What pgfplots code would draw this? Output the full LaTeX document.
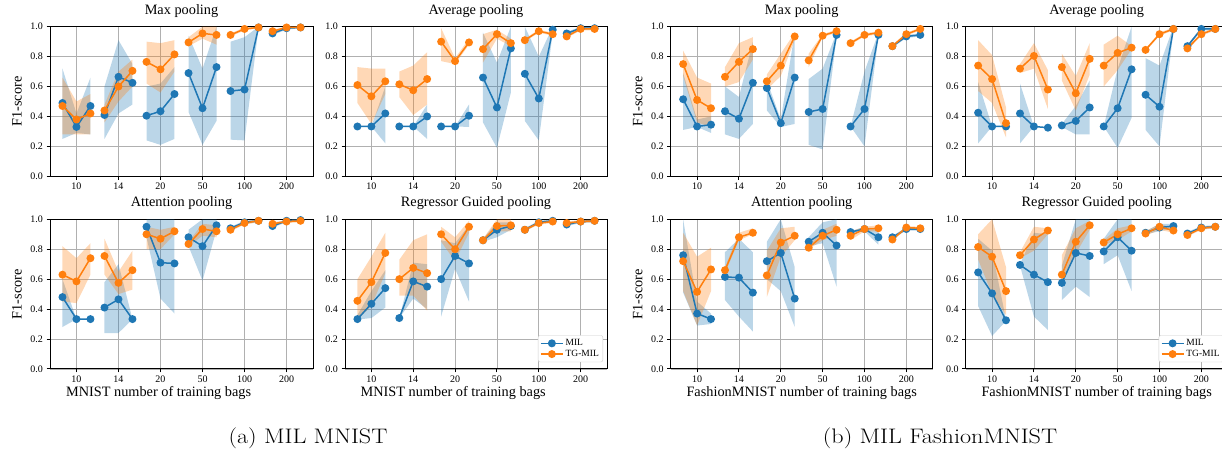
\documentclass[border=0pt]{standalone}
\usepackage{fontspec}
\usepackage{graphicx}
\usepackage{pgfplots}
\usepackage{pgfplotstable}
\pgfplotsset{compat=1.18}
\usepgfplotslibrary{fillbetween}
\newfontfamily\tnr{Liberation Serif}

\definecolor{c0}{HTML}{1F77B4}
\definecolor{c1}{HTML}{FF7F0E}
\definecolor{gridc}{HTML}{B0B0B0}

% columns: x, MIL mean/low/high, TG-MIL mean/low/high
\pgfplotstableread{
x m1 l1 h1 m2 l2 h2
-0.333 0.49 0.25 0.72 0.47 0.28 0.66
0 0.33 0.29 0.42 0.38 0.28 0.50
0.333 0.47 0.28 0.66 0.42 0.28 0.55
0.667 0.41 0.25 0.60 0.44 0.36 0.48
1 0.665 0.42 0.91 0.60 0.50 0.70
1.333 0.625 0.48 0.75 0.705 0.60 0.78
1.667 0.405 0.24 0.60 0.765 0.62 0.90
2 0.435 0.21 0.62 0.715 0.56 0.89
2.333 0.55 0.25 0.73 0.815 0.70 0.91
2.667 0.69 0.43 0.94 0.895 0.87 0.93
3 0.455 0.21 0.72 0.955 0.92 1.0
3.333 0.73 0.37 1.0 0.945 0.88 1.0
3.667 0.57 0.245 0.90 0.945 0.935 0.955
4 0.58 0.24 0.93 0.985 0.975 0.995
4.333 0.995 0.99 1.0 0.995 0.99 1.0
4.667 0.955 0.945 0.965 0.97 0.96 0.98
5 0.99 0.98 1.0 0.995 0.99 1.0
5.333 0.995 0.99 1.0 0.995 0.99 1.0
}\tMA
\pgfplotstableread{
x m1 l1 h1 m2 l2 h2
-0.333 0.333 0.333 0.333 0.61 0.49 0.73
0 0.333 0.333 0.333 0.535 0.35 0.72
0.333 0.42 0.22 0.60 0.635 0.55 0.72
0.667 0.333 0.333 0.333 0.615 0.53 0.70
1 0.333 0.333 0.333 0.575 0.41 0.74
1.333 0.40 0.25 0.48 0.65 0.48 0.83
1.667 0.333 0.333 0.333 0.90 0.77 0.99
2 0.333 0.333 0.333 0.77 0.75 0.79
2.333 0.405 0.33 0.48 0.895 0.88 0.92
2.667 0.66 0.36 0.96 0.85 0.76 0.95
3 0.46 0.19 0.76 0.95 0.92 0.98
3.333 0.855 0.56 1.0 0.89 0.87 0.92
3.667 0.685 0.37 1.0 0.91 0.90 0.92
4 0.52 0.24 0.80 0.97 0.96 0.98
4.333 0.98 0.96 1.0 0.95 0.94 0.96
4.667 0.955 0.945 0.965 0.935 0.925 0.945
5 0.99 0.98 1.0 0.985 0.975 0.995
5.333 0.99 0.98 1.0 0.985 0.975 0.995
}\tMB
\pgfplotstableread{
x m1 l1 h1 m2 l2 h2
-0.333 0.48 0.28 0.60 0.63 0.45 0.82
0 0.333 0.333 0.333 0.585 0.44 0.74
0.333 0.333 0.333 0.333 0.74 0.63 0.84
0.667 0.41 0.24 0.58 0.755 0.63 0.87
1 0.465 0.24 0.70 0.575 0.50 0.65
1.333 0.333 0.333 0.333 0.66 0.53 0.79
1.667 0.95 0.88 1.0 0.90 0.80 0.95
2 0.71 0.47 1.0 0.87 0.80 0.93
2.333 0.705 0.37 1.0 0.92 0.90 0.95
2.667 0.88 0.82 0.93 0.835 0.82 0.85
3 0.82 0.59 1.0 0.935 0.89 0.97
3.333 0.96 0.93 1.0 0.92 0.88 0.96
3.667 0.94 0.93 0.95 0.93 0.92 0.94
4 0.98 0.97 0.99 0.975 0.965 0.985
4.333 0.99 0.98 1.0 0.99 0.98 1.0
4.667 0.955 0.945 0.965 0.97 0.96 0.98
5 0.99 0.98 1.0 0.985 0.975 0.995
5.333 0.995 0.99 1.0 0.99 0.98 1.0
}\tMC
\pgfplotstableread{
x m1 l1 h1 m2 l2 h2
-0.333 0.333 0.33 0.36 0.455 0.33 0.60
0 0.435 0.34 0.52 0.58 0.42 0.75
0.333 0.54 0.41 0.66 0.775 0.64 0.91
0.667 0.34 0.34 0.34 0.60 0.49 0.73
1 0.585 0.47 0.71 0.675 0.49 0.86
1.333 0.55 0.40 0.70 0.64 0.39 0.90
1.667 0.60 0.35 0.86 0.90 0.85 0.95
2 0.755 0.67 0.84 0.80 0.72 0.88
2.333 0.705 0.45 0.96 0.95 0.91 0.99
2.667 0.86 0.85 0.87 0.86 0.85 0.87
3 0.93 0.88 0.98 0.955 0.92 1.0
3.333 0.955 0.93 0.98 0.96 0.92 1.0
3.667 0.93 0.92 0.94 0.93 0.92 0.94
4 0.98 0.97 0.99 0.975 0.965 0.985
4.333 0.99 0.98 1.0 0.985 0.975 0.995
4.667 0.965 0.955 0.975 0.975 0.965 0.985
5 0.985 0.975 0.995 0.985 0.975 0.995
5.333 0.99 0.98 1.0 0.99 0.98 1.0
}\tMD
\pgfplotstableread{
x m1 l1 h1 m2 l2 h2
-0.333 0.515 0.31 0.69 0.75 0.67 0.84
0 0.333 0.33 0.38 0.51 0.36 0.66
0.333 0.345 0.29 0.40 0.455 0.33 0.62
0.667 0.435 0.28 0.60 0.665 0.60 0.73
1 0.385 0.25 0.53 0.765 0.63 0.89
1.333 0.625 0.35 0.90 0.85 0.78 0.93
1.667 0.59 0.44 0.64 0.635 0.58 0.68
2 0.355 0.33 0.38 0.74 0.67 0.82
2.333 0.66 0.35 0.96 0.935 0.91 0.96
2.667 0.43 0.21 0.65 0.775 0.73 0.82
3 0.45 0.18 0.72 0.94 0.93 0.95
3.333 0.945 0.93 0.96 0.97 0.96 0.98
3.667 0.333 0.333 0.333 0.89 0.88 0.90
4 0.45 0.20 0.70 0.945 0.935 0.955
4.333 0.945 0.93 0.96 0.96 0.95 0.97
4.667 0.87 0.86 0.88 0.87 0.86 0.88
5 0.935 0.925 0.945 0.95 0.94 0.96
5.333 0.945 0.935 0.955 0.985 0.975 0.995
}\tFA
\pgfplotstableread{
x m1 l1 h1 m2 l2 h2
-0.333 0.425 0.22 0.63 0.74 0.57 0.91
0 0.333 0.333 0.333 0.65 0.49 0.81
0.333 0.333 0.333 0.333 0.355 0.26 0.46
0.667 0.42 0.22 0.62 0.72 0.69 0.75
1 0.333 0.333 0.333 0.805 0.72 0.89
1.333 0.325 0.325 0.325 0.58 0.45 0.71
1.667 0.34 0.33 0.35 0.73 0.64 0.82
2 0.37 0.28 0.47 0.555 0.44 0.67
2.333 0.46 0.28 0.64 0.785 0.68 0.89
2.667 0.333 0.333 0.333 0.74 0.60 0.88
3 0.455 0.19 0.72 0.825 0.71 0.94
3.333 0.715 0.39 1.0 0.86 0.85 0.87
3.667 0.545 0.31 0.79 0.845 0.835 0.855
4 0.465 0.20 0.74 0.95 0.94 0.96
4.333 0.985 0.97 1.0 0.985 0.975 0.995
4.667 0.87 0.86 0.88 0.855 0.845 0.865
5 0.985 0.975 0.995 0.95 0.94 0.96
5.333 0.985 0.975 0.995 0.985 0.975 0.995
}\tFB
\pgfplotstableread{
x m1 l1 h1 m2 l2 h2
-0.333 0.76 0.51 1.0 0.72 0.52 0.91
0 0.37 0.29 0.45 0.515 0.29 0.75
0.333 0.333 0.30 0.37 0.665 0.52 0.81
0.667 0.615 0.46 0.78 0.66 0.64 0.68
1 0.61 0.35 0.87 0.88 0.86 0.91
1.333 0.51 0.25 0.78 0.91 0.90 0.94
1.667 0.72 0.60 0.85 0.625 0.48 0.79
2 0.775 0.52 1.0 0.845 0.75 0.94
2.333 0.47 0.28 0.68 0.89 0.86 0.95
2.667 0.85 0.82 0.88 0.81 0.80 0.82
3 0.91 0.84 0.98 0.89 0.86 0.93
3.333 0.825 0.55 1.0 0.93 0.89 0.97
3.667 0.915 0.91 0.92 0.89 0.86 0.92
4 0.935 0.92 0.95 0.935 0.92 0.95
4.333 0.88 0.83 0.93 0.94 0.92 0.96
4.667 0.88 0.87 0.89 0.865 0.855 0.875
5 0.935 0.925 0.945 0.945 0.935 0.955
5.333 0.935 0.925 0.945 0.94 0.93 0.95
}\tFC
\pgfplotstableread{
x m1 l1 h1 m2 l2 h2
-0.333 0.645 0.42 0.87 0.815 0.73 0.90
0 0.505 0.22 0.79 0.75 0.50 1.0
0.333 0.325 0.32 0.33 0.52 0.36 0.68
0.667 0.695 0.69 0.70 0.76 0.74 0.78
1 0.63 0.35 0.91 0.865 0.79 0.95
1.333 0.58 0.26 0.90 0.925 0.90 0.94
1.667 0.575 0.46 0.69 0.63 0.58 0.76
2 0.775 0.55 1.0 0.85 0.77 0.94
2.333 0.755 0.48 1.0 0.96 0.93 0.99
2.667 0.785 0.70 0.87 0.845 0.83 0.86
3 0.88 0.76 1.0 0.90 0.86 0.94
3.333 0.79 0.52 1.0 0.94 0.92 0.96
3.667 0.91 0.90 0.92 0.905 0.89 0.92
4 0.945 0.92 0.97 0.95 0.93 0.97
4.333 0.955 0.94 0.97 0.925 0.91 0.94
4.667 0.905 0.895 0.915 0.895 0.885 0.905
5 0.945 0.935 0.955 0.94 0.93 0.95
5.333 0.95 0.94 0.96 0.95 0.94 0.96
}\tFD

% one group of three points: band and line
% #1 table, #2 low col, #3 high col, #4 colour, #5 id, #6 x domain
\newcommand{\bandg}[6]{%
  \addplot[draw=none, forget plot, name path=H#4#5, restrict x to domain=#6] table[x=x, y=#3] {#1};
  \addplot[draw=none, forget plot, name path=L#4#5, restrict x to domain=#6] table[x=x, y=#2] {#1};
  \addplot[fill=#4, fill opacity=0.3, draw=none, forget plot] fill between[of=H#4#5 and L#4#5];
}
% #1 table, #2 mean col, #3 colour, #4 x domain
\newcommand{\lineg}[4]{%
  \addplot[#3, line width=1.5pt, mark=*, mark size=3.2pt, mark options={solid, fill=#3}, forget plot,
    restrict x to domain=#4] table[x=x, y=#2] {#1};
}
\newcommand{\bands}[4]{%
  \bandg{#1}{#2}{#3}{#4}{a}{-0.5:0.5}\bandg{#1}{#2}{#3}{#4}{b}{0.5:1.5}%
  \bandg{#1}{#2}{#3}{#4}{c}{1.5:2.5}\bandg{#1}{#2}{#3}{#4}{d}{2.5:3.5}%
  \bandg{#1}{#2}{#3}{#4}{e}{3.5:4.5}\bandg{#1}{#2}{#3}{#4}{f}{4.5:5.5}%
}
\newcommand{\lines}[3]{%
  \lineg{#1}{#2}{#3}{-0.5:0.5}\lineg{#1}{#2}{#3}{0.5:1.5}\lineg{#1}{#2}{#3}{1.5:2.5}%
  \lineg{#1}{#2}{#3}{2.5:3.5}\lineg{#1}{#2}{#3}{3.5:4.5}\lineg{#1}{#2}{#3}{4.5:5.5}%
}
\newcommand{\panel}[1]{%
  \bands{#1}{l1}{h1}{c0}
  \bands{#1}{l2}{h2}{c1}
  \lines{#1}{m1}{c0}
  \lines{#1}{m2}{c1}
}

\pgfplotsset{
  sub/.style={
    scale only axis, anchor=north west,
    width=262pt, height=149.6pt,
    xmin=-0.63, xmax=5.63, ymin=0, ymax=1,
    xtick={0,...,5}, xticklabels={10,14,20,50,100,200},
    ytick={0,0.2,0.4,0.6,0.8,1},
    yticklabel style={/pgf/number format/.cd, fixed, fixed zerofill, precision=1},
    /pgf/number format/assume math mode=true,
    grid=major, grid style={gridc, line width=0.8pt},
    axis line style={line width=0.9pt},
    tick style={black, line width=0.9pt},
    tick align=outside, major tick length=3.5pt, tick pos=left,
    ticklabel style={font=\tnr\fontsize{10}{12}\selectfont},
    title style={font=\tnr\fontsize{14.3}{17}\selectfont, at={(axis description cs:0.5,1)}, anchor=base, yshift=6.5pt},
    label style={font=\tnr\fontsize{14.3}{17}\selectfont},
    ylabel style={at={(axis description cs:-0.126,0.5)}, anchor=center},
    xlabel style={at={(axis description cs:0.5,-0.162)}, anchor=center},
    clip=false,
    legend style={at={(0.985,0.045)}, anchor=south east, font=\tnr\fontsize{9.5}{11}\selectfont,
      draw=gray!40, rounded corners=2pt, fill=white, inner sep=2pt, row sep=-1pt},
    legend cell align=left,
    legend image code/.code={\draw[mark repeat=2, mark phase=2] plot coordinates {(0pt,0pt) (11pt,0pt) (22pt,0pt)};},
  },
  mnistx/.style={xlabel style={at={(axis description cs:0.413,-0.162)}}},
}
\newcommand{\legendentries}{%
  \addlegendimage{c0, line width=1.5pt, mark=*, mark size=3.2pt, mark options={fill=c0}}\addlegendentry{MIL}
  \addlegendimage{c1, line width=1.5pt, mark=*, mark size=3.2pt, mark options={fill=c1}}\addlegendentry{TG-MIL}
}

\begin{document}
\begin{tikzpicture}
% (a) MNIST
\begin{axis}[sub, at={(50pt,-26.7pt)}, width=263pt, title={Max pooling}, ylabel={F1-score}]
\panel{\tMA}
\end{axis}
\begin{axis}[sub, at={(345pt,-26.7pt)}, title={Average pooling}]
\panel{\tMB}
\end{axis}
\begin{axis}[sub, mnistx, at={(50pt,-219.3pt)}, width=263pt, title={Attention pooling}, ylabel={F1-score}, xlabel={MNIST number of training bags}]
\panel{\tMC}
\end{axis}
\begin{axis}[sub, mnistx, at={(345pt,-219.3pt)}, title={Regressor Guided pooling}, xlabel={MNIST number of training bags}]
\panel{\tMD}
\legendentries
\end{axis}
% (b) FashionMNIST
\begin{axis}[sub, at={(670.7pt,-26.7pt)}, title={Max pooling}, ylabel={F1-score}]
\panel{\tFA}
\end{axis}
\begin{axis}[sub, at={(965.7pt,-26.7pt)}, title={Average pooling}]
\panel{\tFB}
\end{axis}
\begin{axis}[sub, at={(670.7pt,-219.3pt)}, title={Attention pooling}, ylabel={F1-score}, xlabel={FashionMNIST number of training bags}]
\panel{\tFC}
\end{axis}
\begin{axis}[sub, at={(965.7pt,-219.3pt)}, title={Regressor Guided pooling}, xlabel={FashionMNIST number of training bags}]
\panel{\tFD}
\legendentries
\end{axis}
\node[anchor=base] at (308pt,-443pt) {\scalebox{1.15}[1]{\fontsize{21}{25}\selectfont (a) MIL MNIST}};
\node[anchor=base] at (940pt,-443pt) {\scalebox{1.15}[1]{\fontsize{21}{25}\selectfont (b) MIL FashionMNIST}};
\pgfresetboundingbox
\useasboundingbox (0pt,0pt) rectangle (1222pt,-450pt);
\end{tikzpicture}
\end{document}
